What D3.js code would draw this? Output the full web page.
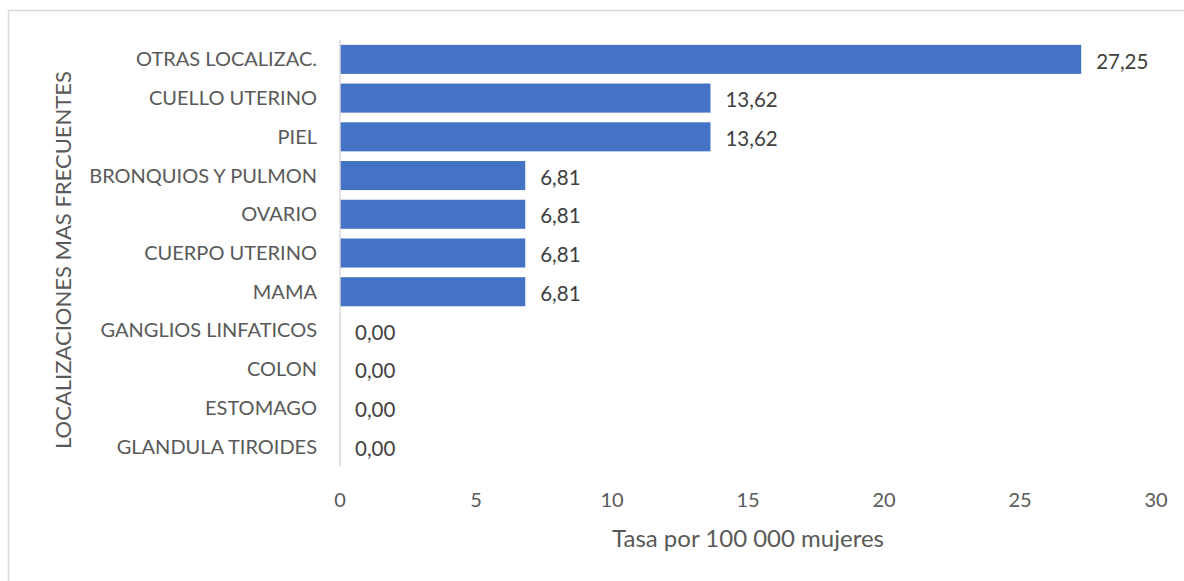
<!DOCTYPE html>
<html><head><meta charset="utf-8">
<script src="https://cdn.jsdelivr.net/npm/d3@7"></script>
<style>
html,body{margin:0;padding:0;background:#fff;}
svg{display:block;}
text{font-family:Lato,"Open Sans",sans-serif;}
</style></head>
<body>
<svg id="c" width="1184" height="581"></svg>
<script>
const categories = ["OTRAS LOCALIZAC.","CUELLO UTERINO","PIEL","BRONQUIOS Y PULMON","OVARIO","CUERPO UTERINO","MAMA","GANGLIOS LINFATICOS","COLON","ESTOMAGO","GLANDULA TIROIDES"];
const values = [27.25,13.62,13.62,6.81,6.81,6.81,6.81,0,0,0,0];
const xTicks = [0,5,10,15,20,25,30];
const xTitle = "Tasa por 100 000 mujeres";
const yTitle = "LOCALIZACIONES MAS FRECUENTES";

const svg = d3.select("#c");
// frame
svg.append("path").attr("d","M8.5,581 V10.5 H1184").attr("fill","none").attr("stroke","#d9d9d9").attr("stroke-width",1.5);

const x = d3.scaleLinear().domain([0,30]).range([340,1156]);
const y = d3.scaleBand().domain(categories).range([40,466]).paddingInner(0.25).paddingOuter(0.125);

svg.selectAll("rect.bar").data(values).enter().append("rect")
  .attr("x",x(0)).attr("y",(d,i)=>y(categories[i]))
  .attr("width",d=>x(d)-x(0)).attr("height",y.bandwidth())
  .attr("fill","#4472c4");

// axis line
svg.append("line").attr("x1",x(0)).attr("x2",x(0)).attr("y1",40).attr("y2",466)
  .attr("stroke","#d9d9d9").attr("stroke-width",1.5);

// category labels
svg.selectAll("text.cat").data(categories).enter().append("text")
  .attr("x",317).attr("y",d=>y(d)+y.bandwidth()/2).attr("dy","0.35em")
  .attr("text-anchor","end").attr("font-size",20).attr("fill","#595959").text(d=>d);

// value labels
const fmt = d=>d.toFixed(2).replace(".",",");
svg.selectAll("text.val").data(values).enter().append("text")
  .attr("x",d=>x(d)+15).attr("y",(d,i)=>y(categories[i])+y.bandwidth()/2+2).attr("dy","0.35em")
  .attr("font-size",20.5).attr("fill","#404040").text(fmt);

// x ticks
svg.selectAll("text.tick").data(xTicks).enter().append("text")
  .attr("x",d=>x(d)).attr("y",500).attr("dy","0.35em").attr("text-anchor","middle")
  .attr("font-size",20).attr("fill","#595959").text(d=>d);

svg.append("text").attr("x",(x(0)+x(30))/2).attr("y",539).attr("dy","0.35em").attr("text-anchor","middle")
  .attr("font-size",24).attr("fill","#595959").text(xTitle);

svg.append("text").attr("transform","translate(63,260) rotate(-90)").attr("dy","0.35em").attr("text-anchor","middle")
  .attr("font-size",22).attr("fill","#595959").text(yTitle);
</script>
</body></html>
